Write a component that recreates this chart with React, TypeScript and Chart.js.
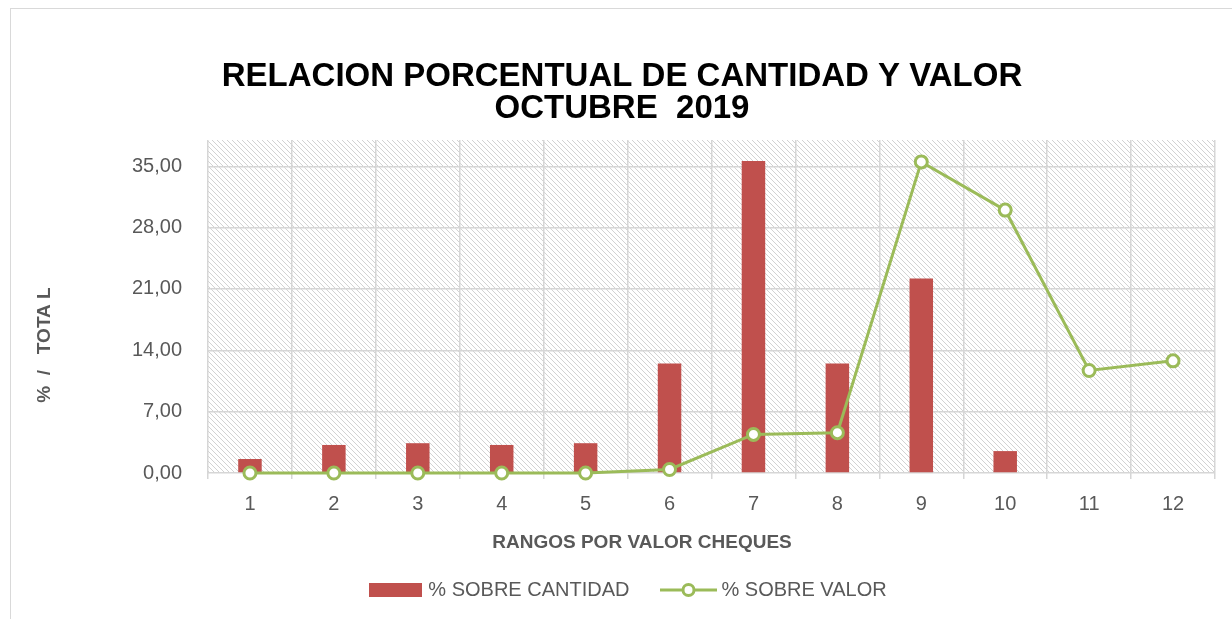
import React, { useEffect, useRef } from "react";
import { Chart, registerables } from "chart.js";

Chart.register(...registerables);

const categories = ["1", "2", "3", "4", "5", "6", "7", "8", "9", "10", "11", "12"];
const cantidad = [1.6, 3.2, 3.4, 3.2, 3.4, 12.5, 35.6, 12.5, 22.2, 2.5, 0, 0];
const valor = [0, 0, 0, 0, 0, 0.4, 4.4, 4.6, 35.5, 30.0, 11.7, 12.8];
const yTicks = [0, 7, 14, 21, 28, 35];
const yMax = 38;
const titleLines = ["RELACION PORCENTUAL DE CANTIDAD Y VALOR", "OCTUBRE  2019"];
const xTitle = "RANGOS POR VALOR CHEQUES";
const yTitle = "%  /   TOTA L";
const seriesNames = ["% SOBRE CANTIDAD", "% SOBRE VALOR"];

const FONT = "'Liberation Sans', Arial, sans-serif";
const RED = "#C0504D";
const GREEN = "#9BBB59";
const TXT = "#595959";

function makeHatch(ctx: CanvasRenderingContext2D) {
  const s = 5;
  const c = document.createElement("canvas");
  c.width = s;
  c.height = s;
  const g = c.getContext("2d")!;
  g.fillStyle = "#ffffff";
  g.fillRect(0, 0, s, s);
  g.strokeStyle = "#d2d2d2";
  g.lineWidth = 1;
  g.beginPath();
  g.moveTo(0, 0);
  g.lineTo(s, s);
  g.moveTo(-1, s - 1);
  g.lineTo(1, s + 1);
  g.moveTo(s - 1, -1);
  g.lineTo(s + 1, 1);
  g.stroke();
  return ctx.createPattern(c, "repeat");
}

function barLegendImage() {
  const c = document.createElement("canvas");
  c.width = 53;
  c.height = 14;
  const g = c.getContext("2d")!;
  g.fillStyle = RED;
  g.fillRect(0, 0, 53, 14);
  return c;
}

function lineLegendImage() {
  const c = document.createElement("canvas");
  c.width = 57;
  c.height = 18;
  const g = c.getContext("2d")!;
  g.strokeStyle = GREEN;
  g.lineWidth = 3;
  g.beginPath();
  g.moveTo(0, 9);
  g.lineTo(57, 9);
  g.stroke();
  g.beginPath();
  g.arc(28.5, 9, 5.5, 0, Math.PI * 2);
  g.fillStyle = "#ffffff";
  g.fill();
  g.stroke();
  return c;
}

const decorPlugin = {
  id: "decor",
  beforeDraw(chart: any) {
    const { ctx, chartArea } = chart;
    ctx.save();
    ctx.fillStyle = makeHatch(ctx) as any;
    ctx.fillRect(chartArea.left, chartArea.top, chartArea.right - chartArea.left, chartArea.bottom - chartArea.top);
    ctx.restore();
  },
  afterDraw(chart: any) {
    const { ctx } = chart;
    ctx.save();
    ctx.fillStyle = "#000000";
    ctx.textAlign = "center";
    ctx.textBaseline = "alphabetic";
    ctx.font = `bold 33px ${FONT}`;
    ctx.fillText(titleLines[0], 611, 77);
    ctx.fillText(titleLines[1], 611, 109);

    ctx.fillStyle = TXT;
    ctx.font = `bold 19px ${FONT}`;
    ctx.textBaseline = "middle";
    ctx.fillText(xTitle, 631, 534);

    ctx.translate(34, 336);
    ctx.rotate(-Math.PI / 2);
    ctx.fillText(yTitle, 0, 0);
    ctx.restore();
  },
};

export default function App() {
  const ref = useRef<HTMLCanvasElement>(null);
  useEffect(() => {
    const canvas = ref.current!;
    const chart = new Chart(canvas, {
      type: "bar",
      data: {
        labels: categories,
        datasets: [
          {
            type: "bar",
            label: seriesNames[0],
            data: cantidad,
            backgroundColor: RED,
            borderWidth: 0,
            categoryPercentage: 0.28,
            barPercentage: 1,
            order: 1,
          },
          {
            type: "line",
            label: seriesNames[1],
            data: valor,
            borderColor: GREEN,
            borderWidth: 3,
            pointRadius: 6,
            pointBorderWidth: 3,
            pointBackgroundColor: "#ffffff",
            pointBorderColor: GREEN,
            tension: 0,
            clip: false,
            order: 0,
          } as any,
        ],
      },
      options: {
        animation: false,
        responsive: false,
        maintainAspectRatio: false,
        layout: { padding: { left: 33, right: 17, top: 131, bottom: 9 } },
        plugins: {
          title: { display: false },
          tooltip: { enabled: false },
          legend: {
            display: true,
            position: "bottom",
            labels: {
              usePointStyle: true,
              pointStyleWidth: 46,
              padding: 36,
              color: TXT,
              font: { family: FONT, size: 20 },
              generateLabels: () => [
                {
                  text: seriesNames[0],
                  pointStyle: barLegendImage() as any,
                  fillStyle: RED,
                  strokeStyle: RED,
                  lineWidth: 0,
                  hidden: false,
                  datasetIndex: 0,
                  fontColor: TXT,
                },
                {
                  text: seriesNames[1],
                  pointStyle: lineLegendImage() as any,
                  fillStyle: "#fff",
                  strokeStyle: GREEN,
                  lineWidth: 0,
                  hidden: false,
                  datasetIndex: 1,
                  fontColor: TXT,
                },
              ],
            },
          },
        },
        scales: {
          x: {
            offset: true,
            grid: {
              display: true,
              offset: true,
              color: "#d6d6d6",
              lineWidth: 1.5,
              drawTicks: true,
              tickLength: 6,
            },
            border: { display: false },
            ticks: {
              color: TXT,
              font: { family: FONT, size: 20 },
              padding: 13,
              maxRotation: 0,
            },
            afterFit: (scale: any) => {
              scale.height = 71;
            },
          },
          y: {
            min: 0,
            max: yMax,
            grid: { color: "#d6d6d6", lineWidth: 1.5, drawTicks: false },
            border: { display: false },
            ticks: {
              color: TXT,
              font: { family: FONT, size: 20 },
              padding: 26,
              callback: (v: any) => Number(v).toFixed(2).replace(".", ","),
            },
            afterBuildTicks: (scale: any) => {
              scale.ticks = yTicks.map((v) => ({ value: v }));
            },
            afterFit: (scale: any) => {
              scale.width = 164;
            },
          },
        },
      },
      plugins: [decorPlugin],
    });
    return () => chart.destroy();
  }, []);

  return (
    <div
      style={{
        position: "absolute",
        left: 10,
        top: 8,
        width: 1222,
        height: 611,
        boxSizing: "border-box",
        borderLeft: "1px solid #d9d9d9",
        borderTop: "1px solid #d9d9d9",
        overflow: "hidden",
        background: "#fff",
      }}
    >
      <canvas ref={ref} width={1221} height={610} style={{ display: "block" }} />
    </div>
  );
}
